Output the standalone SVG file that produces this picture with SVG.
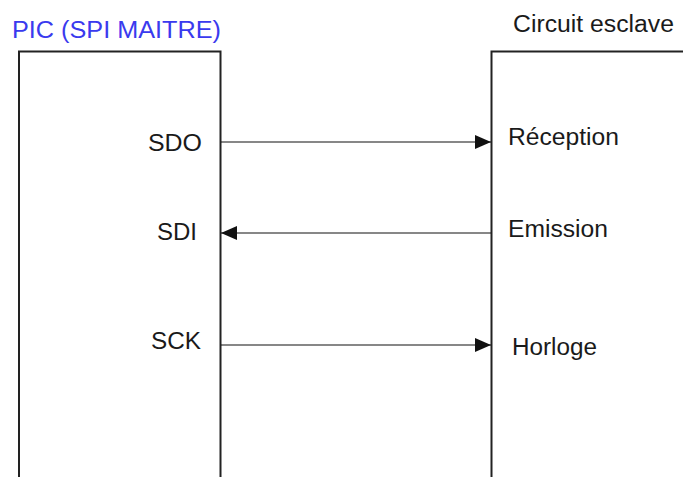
<svg xmlns="http://www.w3.org/2000/svg" width="683" height="477" viewBox="0 0 683 477">
<defs>
<marker id="ah" viewBox="0 0 16 14" refX="16" refY="7" markerWidth="16" markerHeight="14" markerUnits="userSpaceOnUse" orient="auto">
<path d="M0,0 L16,7 L0,14 Z" fill="#111"/>
</marker>
</defs>
<style>
text{font-family:"Liberation Sans",Arial,sans-serif;font-size:23px;fill:#1a1a1a}
.box{fill:none;stroke:#222;stroke-width:2}
.conn{stroke:#111;stroke-width:1.2;fill:none;marker-end:url(#ah)}
.title{fill:#3a3aee}
</style>
<rect width="683" height="477" fill="#fff"/>
<g id="master">
<path class="box" d="M19,480 V51.5 H220.5 V480"/>
<text class="title" x="12" y="38" textLength="209" lengthAdjust="spacingAndGlyphs">PIC (SPI MAITRE)</text>
<text x="148" y="151" textLength="54" lengthAdjust="spacingAndGlyphs">SDO</text>
<text x="157" y="240" textLength="40" lengthAdjust="spacingAndGlyphs">SDI</text>
<text x="151" y="349" textLength="50" lengthAdjust="spacingAndGlyphs">SCK</text>
</g>
<g id="slave">
<path class="box" d="M491.5,480 V51.5 H690"/>
<text x="513" y="32" textLength="161" lengthAdjust="spacingAndGlyphs">Circuit esclave</text>
<text x="508" y="145" textLength="111" lengthAdjust="spacingAndGlyphs">Réception</text>
<text x="508" y="237" textLength="100" lengthAdjust="spacingAndGlyphs">Emission</text>
<text x="512" y="355" textLength="85" lengthAdjust="spacingAndGlyphs">Horloge</text>
</g>
<g id="connectors">
<line class="conn" x1="221" y1="142" x2="491" y2="142"/>
<line class="conn" x1="491" y1="233" x2="221" y2="233"/>
<line class="conn" x1="221" y1="345" x2="491" y2="345"/>
</g>
</svg>
